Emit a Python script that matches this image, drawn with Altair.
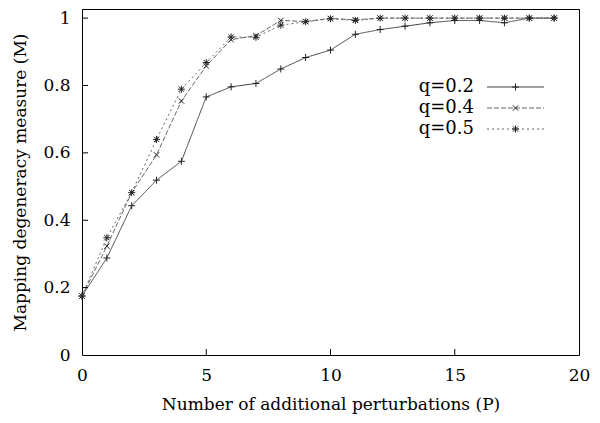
import altair as alt
import pandas as pd

# ---- data ----
perturbations = list(range(20))
q02 = [0.175, 0.288, 0.443, 0.519, 0.575, 0.766, 0.796, 0.806, 0.849, 0.883,
       0.905, 0.952, 0.966, 0.976, 0.986, 0.993, 0.993, 0.986, 1.0, 1.0]
q04 = [0.175, 0.323, 0.482, 0.594, 0.754, 0.858, 0.936, 0.948, 0.993, 0.990,
       0.999, 0.995, 1.0, 1.0, 1.0, 1.0, 1.0, 1.0, 1.0, 1.0]
q05 = [0.175, 0.348, 0.482, 0.640, 0.789, 0.868, 0.944, 0.943, 0.979, 0.989,
       0.998, 0.993, 1.0, 1.0, 1.0, 1.0, 1.0, 1.0, 1.0, 1.0]
series_names = ["q=0.2", "q=0.4", "q=0.5"]
series_values = [q02, q04, q05]
x_ticks = [0, 5, 10, 15, 20]
y_ticks = [0, 0.2, 0.4, 0.6, 0.8, 1.0]

# ---- styles ----
FONT = "DejaVu Serif"
FS = 17
W, H = 497, 346
PLUS = "M-1,0L1,0M0,-1L0,1"
CROSS = "M-0.75,-0.75L0.75,0.75M-0.75,0.75L0.75,-0.75"
STAR = "M-1,0L1,0M0,-1L0,1M-0.75,-0.75L0.75,0.75M-0.75,0.75L0.75,-0.75"
shapes = [PLUS, CROSS, STAR]
dashes = [[1, 0], [5, 2], [2, 3]]
line_colors = ["#444444", "#666666", "#666666"]

rows = []
for name, vals in zip(series_names, series_values):
    for p, v in zip(perturbations, vals):
        rows.append({"P": p, "M": v, "series": name})
df = pd.DataFrame(rows)

xs = alt.Scale(domain=[0, 20], nice=False, zero=False)
ys = alt.Scale(domain=[0, 1.027], nice=False, zero=False)

xax = alt.Axis(values=x_ticks, ticks=False, labelFontSize=FS, labelFlush=False,
               labelColor="black", labelPadding=12, domain=False, grid=False,
               title="Number of additional perturbations (P)",
               titleFontSize=FS, titleFontWeight="normal", titleColor="black",
               titlePadding=13)
yax = alt.Axis(values=y_ticks, ticks=False, format="~g", labelFlush=False,
               labelFontSize=FS, labelColor="black", labelPadding=12,
               domain=False, grid=False,
               title="Mapping degeneracy measure (M)",
               titleFontSize=FS, titleFontWeight="normal", titleColor="black",
               titlePadding=13)

layers = []
# axes carrier (invisible)
layers.append(alt.Chart(df).mark_point(opacity=0).encode(
    x=alt.X("P:Q", scale=xs, axis=xax), y=alt.Y("M:Q", scale=ys, axis=yax)))

for i, name in enumerate(series_names):
    sub = df[df.series == name]
    base = alt.Chart(sub).encode(x=alt.X("P:Q", scale=xs),
                                 y=alt.Y("M:Q", scale=ys))
    layers.append(base.mark_line(color=line_colors[i], strokeWidth=1,
                                 strokeDash=dashes[i]))
    layers.append(base.mark_point(shape=shapes[i], filled=False, size=49,
                                  color="#222222", strokeWidth=1, opacity=1))

# inward ticks
yt = pd.DataFrame({"v": y_ticks[1:]})
layers.append(alt.Chart(yt).mark_rule(color="black", strokeWidth=1).encode(
    y=alt.Y("v:Q", scale=ys), x=alt.value(0), x2=alt.value(6)))
xt = pd.DataFrame({"v": x_ticks[1:-1]})
layers.append(alt.Chart(xt).mark_rule(color="black", strokeWidth=1).encode(
    x=alt.X("v:Q", scale=xs), y=alt.value(H), y2=alt.value(H - 6)))

# manual legend (label left of sample)
leg_y = [78, 99, 120]
for i, name in enumerate(series_names):
    one = alt.Data(values=[{"label": name}])
    layers.append(alt.Chart(one).mark_text(fontSize=18, align="right",
                                           baseline="middle", color="black").encode(
        x=alt.value(392), y=alt.value(leg_y[i]), text="label:N"))
    layers.append(alt.Chart(one).mark_rule(color=line_colors[i], strokeWidth=1,
                                           strokeDash=dashes[i]).encode(
        x=alt.value(405), x2=alt.value(462), y=alt.value(leg_y[i])))
    layers.append(alt.Chart(one).mark_point(shape=shapes[i], filled=False, size=49,
                                            color="#222222", strokeWidth=1,
                                            opacity=1).encode(
        x=alt.value(433.5), y=alt.value(leg_y[i])))

chart = alt.layer(*layers).properties(
    width=W, height=H,
    autosize=alt.AutoSizeParams(type="none"),
    padding={"left": 74, "top": 1, "right": 13, "bottom": 62},
).configure(font=FONT, background="white").configure_view(
    stroke="black", strokeWidth=1)

chart.save("out.html", embed_options={"renderer": "svg", "actions": False})
